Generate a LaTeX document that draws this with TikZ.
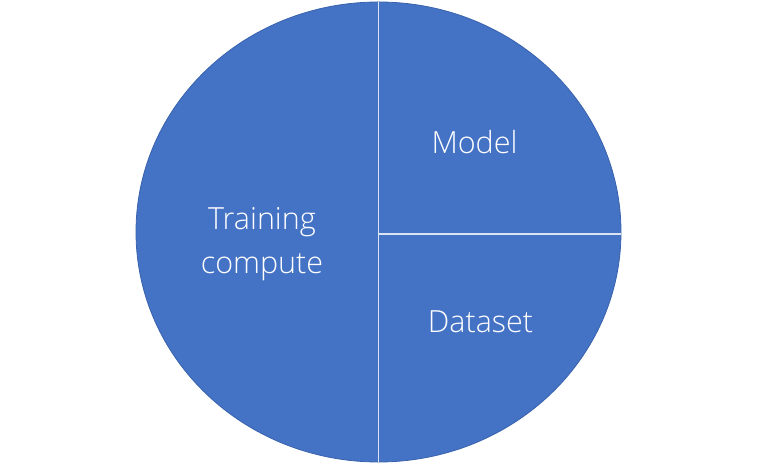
\documentclass[tikz,border=0pt]{standalone}
\usepackage{fontspec}
\setmainfont{Open Sans}[UprightFont={* Light}]
\usetikzlibrary{shapes.geometric}
\definecolor{piefill}{HTML}{4472C4}
\definecolor{pieedge}{HTML}{3A63AE}
\definecolor{divline}{HTML}{DCE3F2}
\tikzset{
  pietext/.style={text=white, font=\fontsize{30.5}{44}\selectfont, align=center, inner sep=0pt},
  divider/.style={draw=divline, line width=1.6pt}
}
\begin{document}
\begin{tikzpicture}[x=1pt,y=1pt]
\useasboundingbox (0,0) rectangle (758,465);
\node[ellipse, fill=piefill, draw=pieedge, line width=0.8pt, minimum width=485pt, minimum height=460pt, inner sep=0pt] (pie) at (378.5,233) {};
\coordinate (mid) at ([yshift=-2pt]pie.center);
\coordinate (rim) at ([yshift=-2pt]pie.east);
\draw[divider] (pie.north) -- (pie.south);
\draw[divider] (mid) -- (rim);
\node[pietext, anchor=base] (train) at (262,191) {Training\\compute};
\node[pietext, anchor=base] (model) at (474.5,311) {Model};
\node[pietext, anchor=base] (data) at (480.5,132) {Dataset};
\end{tikzpicture}
\end{document}
